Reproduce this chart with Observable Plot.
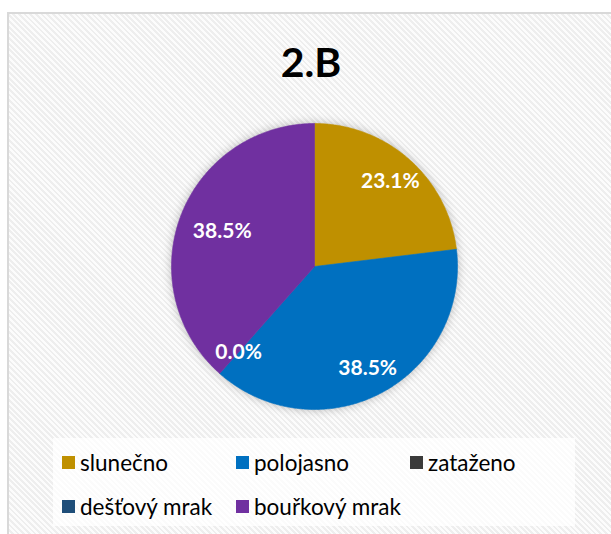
<!DOCTYPE html>
<html>
<head>
<meta charset="utf-8">
<script src="https://cdn.jsdelivr.net/npm/d3@7"></script>
<script src="https://cdn.jsdelivr.net/npm/@observablehq/plot@0.6"></script>
<style>
html, body { margin: 0; padding: 0; background: #fff; }
body { width: 611px; height: 534px; position: relative; overflow: hidden; font-family: Lato, "Open Sans", sans-serif; }
#frame { position: absolute; left: 7px; top: 12px; width: 640px; height: 560px; border: 2px solid #d9d9d9;
  background: repeating-linear-gradient(45deg, #fcfcfc 0px, #fcfcfc 2px, #eeeeee 2px, #eeeeee 4px); }
#title { position: absolute; left: 0; width: 622px; top: 30px; text-align: center; font-weight: 700; font-size: 41px; color: #000; line-height: 64px; }
#chart { position: absolute; left: 0; top: 0; }
#legend { position: absolute; left: 53px; top: 438px; width: 522px; height: 88px; background: rgba(255,255,255,0.78);
  box-sizing: border-box; padding: 2px 0 0 9px; display: grid; grid-template-columns: repeat(3, 174px); grid-auto-rows: 44px; }
.item { display: flex; align-items: center; font-size: 22.5px; color: #000; white-space: nowrap; }
.sw { width: 13px; height: 13px; margin-right: 5px; flex: none; }
</style>
</head>
<body>
<div id="frame"></div>
<div id="title"></div>
<div id="chart"></div>
<div id="legend"></div>
<script>
const title = "2.B";
const categories = ["slunečno", "polojasno", "zataženo", "dešťový mrak", "bouřkový mrak"];
const percents = [23.1, 38.5, 0.0, 0.0, 38.5];
const colors = ["#BF9000", "#0070C0", "#3A3A3A", "#1F4E79", "#7030A0"];

document.getElementById("title").textContent = title;

const total = d3.sum(percents);
let acc = 0;
const slices = categories.map((c, i) => {
  const a0 = acc / total * 2 * Math.PI;
  acc += percents[i];
  const a1 = acc / total * 2 * Math.PI;
  return {c, i, v: percents[i], a0, a1};
});

// polygon outline for each slice (angle measured clockwise from 12 o'clock)
const pts = slices.flatMap(s => {
  if (s.v === 0) return [];
  const n = Math.max(2, Math.ceil((s.a1 - s.a0) / 0.01));
  const arr = [{c: s.c, x: 0, y: 0}];
  for (let k = 0; k <= n; k++) {
    const a = s.a0 + (s.a1 - s.a0) * k / n;
    arr.push({c: s.c, x: Math.sin(a), y: Math.cos(a)});
  }
  arr.push({c: s.c, x: 0, y: 0});
  return arr;
});

// data labels (Excel best-fit style); overlapping zero labels shown once
const seen = new Set();
const labels = slices.filter(s => {
  const key = s.a0.toFixed(4) + "_" + s.a1.toFixed(4);
  if (seen.has(key)) return false;
  seen.add(key);
  return true;
}).map(s => {
  const m = (s.a0 + s.a1) / 2;
  const r = s.i === 4 ? 0.69 : 0.8;
  return {x: r * Math.sin(m), y: r * Math.cos(m), t: s.v.toFixed(1) + "%"};
});

const plot = Plot.plot({
  width: 611,
  height: 534,
  marginLeft: 171,
  marginRight: 154,
  marginTop: 123,
  marginBottom: 125,
  style: {background: "transparent", overflow: "visible"},
  x: {domain: [-1, 1], axis: null},
  y: {domain: [-1, 1], axis: null},
  color: {domain: categories, range: colors},
  marks: [
    Plot.line(pts, {x: "x", y: "y", z: "c", fill: "c", stroke: "c", strokeWidth: 0.6, curve: "linear"}),
    Plot.text(labels, {x: "x", y: "y", text: "t", fill: "white", fontWeight: "bold", fontSize: 21, fontFamily: "Lato, 'Open Sans', sans-serif"})
  ]
});
d3.select(plot).selectAll('g[aria-label="line"]').style("filter", "drop-shadow(0px 0px 5px rgba(0,0,0,0.25))");
document.getElementById("chart").appendChild(plot);

const legend = document.getElementById("legend");
categories.forEach((c, i) => {
  const it = document.createElement("div");
  it.className = "item";
  const sw = document.createElement("span");
  sw.className = "sw";
  sw.style.background = colors[i];
  const tx = document.createElement("span");
  tx.textContent = c;
  it.appendChild(sw);
  it.appendChild(tx);
  legend.appendChild(it);
});
</script>
</body>
</html>
